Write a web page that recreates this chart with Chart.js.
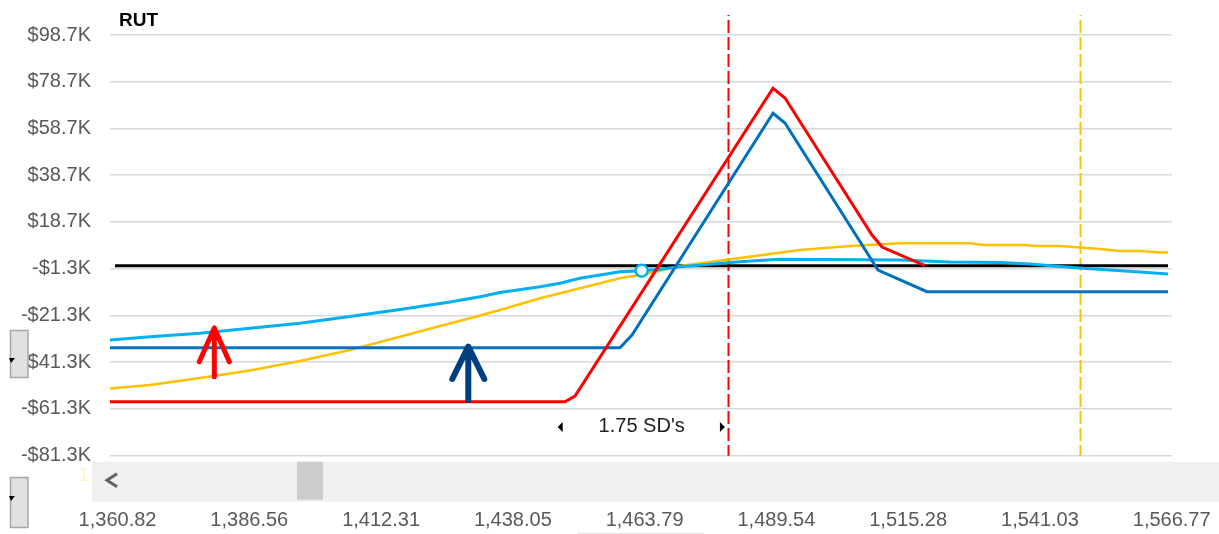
<!DOCTYPE html>
<html>
<head>
<meta charset="utf-8">
<script src="https://cdn.jsdelivr.net/npm/chart.js@4"></script>
<style>
  html, body { margin: 0; padding: 0; background: #ffffff; }
  #wrap { width: 1219px; height: 534px; position: relative; }
</style>
</head>
<body>
<div id="wrap"><canvas id="risk"></canvas></div>
<script>
// RUT risk graph: P&L (in $K) against underlying price.

// Axis ticks
const xTickValues = [1360.82, 1386.56, 1412.31, 1438.05, 1463.79, 1489.54, 1515.28, 1541.03, 1566.77];
const xTickLabels = ['1,360.82', '1,386.56', '1,412.31', '1,438.05', '1,463.79', '1,489.54', '1,515.28', '1,541.03', '1,566.77'];
const yTickValues = [-81.3, -61.3, -41.3, -21.3, -1.3, 18.7, 38.7, 58.7, 78.7, 98.7];

// Expiration P&L (red)
const expPrice = [1359.35, 1448.24, 1450.19, 1488.88, 1491.22, 1508.22, 1510.17, 1518.57];
const expPnl   = [-58.19, -58.19, -55.76, 75.90, 71.74, 13.13, 7.99, 0.00];

// Expiration P&L after adjustment (dark blue)
const adjPrice = [1359.35, 1458.98, 1461.33, 1488.88, 1491.22, 1509.39, 1518.96, 1566.05];
const adjPnl   = [-35.09, -35.09, -29.66, 65.20, 61.05, -1.85, -11.13, -11.13];

// Today's P&L after adjustment (light blue)
const todayAdjPrice = [1359.35, 1367.17, 1376.94, 1386.70, 1396.47, 1406.24, 1416.01, 1425.78, 1431.64, 1435.55,
                       1443.36, 1447.26, 1451.17, 1455.08, 1458.98, 1463.22, 1466.80, 1470.71, 1482.43, 1490.25,
                       1513.69, 1523.46, 1533.23, 1539.09, 1544.95, 1548.86, 1554.72, 1560.58, 1566.05];
const todayAdjPnl   = [-31.80, -30.39, -28.93, -26.79, -24.65, -21.74, -18.75, -15.54, -13.27, -11.47,
                       -8.99, -7.54, -5.40, -3.99, -2.57, -2.15, -1.55, -0.43, 1.70, 2.73,
                       2.43, 1.58, 1.36, 0.72, -0.35, -0.99, -1.85, -2.70, -3.56];

// Today's P&L (yellow)
const todayPrice = [1359.35, 1367.17, 1376.94, 1386.70, 1396.47, 1406.24, 1416.01, 1423.83, 1429.68, 1435.55,
                    1443.36, 1451.17, 1455.08, 1458.98, 1462.89, 1466.80, 1470.71, 1482.43, 1494.15, 1503.92,
                    1513.69, 1527.36, 1529.90, 1538.11, 1540.07, 1544.95, 1548.86, 1552.77, 1556.67, 1560.58,
                    1564.49, 1566.05];
const todayPnl   = [-52.55, -51.05, -48.06, -44.85, -40.78, -36.08, -30.39, -25.81, -22.51, -18.96,
                    -13.96, -9.68, -7.54, -5.40, -3.99, -2.15, -0.14, 3.29, 6.71, 8.42,
                    9.58, 9.58, 8.85, 8.85, 8.42, 8.42, 7.78, 7.14, 6.28, 6.28,
                    5.64, 5.64];

// Break-even reference line
const zeroPrice = [1360.33, 1566.05];
const zeroPnl   = [0, 0];

// Current underlying price on the adjusted curve
const spotPrice = [1463.22];
const spotPnl   = [-2.15];

// Vertical price markers
const markerPrices = [1480.14, 1548.86];
const markerColors = ['#ff0000', '#ffc000'];

// Standard deviation band label
const sdText = "1.75 SD's";
const sdLeft = 1447.4, sdRight = 1478.9, sdLabelY = -69.0;

// Arrow annotations: [price, tip, wing, base]
const redArrow  = [1379.73, -26.66, -41.08, -47.50];
const navyArrow = [1429.35, -34.66, -48.48, -57.47];

const FONT = "'Liberation Sans', Arial, sans-serif";

function pts(xs, ys) { return xs.map((x, i) => ({ x: x, y: ys[i] })); }

function fmtK(v) {
  const s = Math.abs(v).toFixed(1);
  return (v < 0 ? '-$' : '$') + s + 'K';
}

function drawArrow(ctx, px, tip, wing, base, half, color, width) {
  ctx.save();
  ctx.strokeStyle = color;
  ctx.lineWidth = width;
  ctx.lineCap = 'round';
  ctx.lineJoin = 'round';
  ctx.beginPath();
  ctx.moveTo(px, base);
  ctx.lineTo(px, tip);
  ctx.moveTo(px - half, wing);
  ctx.lineTo(px, tip);
  ctx.lineTo(px + half, wing);
  ctx.stroke();
  ctx.restore();
}

const overlay = {
  id: 'overlay',
  beforeDatasetsDraw(chart) {
    const { ctx, chartArea, scales } = chart;
    ctx.save();
    ctx.lineWidth = 2;
    ctx.setLineDash([13, 4]);
    ctx.lineDashOffset = 12;
    markerPrices.forEach((p, i) => {
      const px = Math.round(scales.x.getPixelForValue(p)) + 0.5;
      ctx.strokeStyle = markerColors[i];
      ctx.beginPath();
      ctx.moveTo(px, 15);
      ctx.lineTo(px, chartArea.bottom);
      ctx.stroke();
    });
    ctx.restore();
  },
  afterDraw(chart) {
    const { ctx, chartArea, scales } = chart;
    const x = scales.x, y = scales.y;
    ctx.save();

    // Title
    ctx.fillStyle = '#000000';
    ctx.font = 'bold 19px ' + FONT;
    ctx.textBaseline = 'middle';
    ctx.textAlign = 'left';
    ctx.fillText('RUT', 119, 21);

    // Arrows
    drawArrow(ctx, x.getPixelForValue(redArrow[0]), y.getPixelForValue(redArrow[1]),
              y.getPixelForValue(redArrow[2]), y.getPixelForValue(redArrow[3]), 15, '#ff0000', 5);
    drawArrow(ctx, x.getPixelForValue(navyArrow[0]), y.getPixelForValue(navyArrow[1]),
              y.getPixelForValue(navyArrow[2]), y.getPixelForValue(navyArrow[3]), 16, '#003f7f', 6);

    // SD band label with pointers
    const sy = y.getPixelForValue(sdLabelY);
    ctx.fillStyle = '#1e1e1e';
    ctx.font = '20px ' + FONT;
    ctx.textAlign = 'center';
    ctx.textBaseline = 'middle';
    ctx.fillText(sdText, x.getPixelForValue(spotPrice[0]), sy);
    const lx = x.getPixelForValue(sdLeft), rx = x.getPixelForValue(sdRight);
    ctx.fillStyle = '#000000';
    ctx.beginPath();
    ctx.moveTo(lx - 3, sy); ctx.lineTo(lx + 2, sy - 5); ctx.lineTo(lx + 2, sy + 5); ctx.closePath();
    ctx.moveTo(rx + 3, sy); ctx.lineTo(rx - 2, sy - 5); ctx.lineTo(rx - 2, sy + 5); ctx.closePath();
    ctx.fill();

    // Scroll bar
    const sbTop = chartArea.bottom + 6;
    ctx.fillStyle = '#f0f0f0';
    ctx.fillRect(92, sbTop, 1219 - 92, 40);
    ctx.fillStyle = '#cdcdcd';
    ctx.fillRect(297, sbTop, 26, 38);
    ctx.strokeStyle = '#606060';
    ctx.lineWidth = 3;
    ctx.lineCap = 'butt';
    ctx.lineJoin = 'miter';
    ctx.beginPath();
    ctx.moveTo(117, sbTop + 12); ctx.lineTo(107, sbTop + 18.5); ctx.lineTo(117, sbTop + 25);
    ctx.stroke();

    // Faint clipped label
    ctx.fillStyle = '#fff6c4';
    ctx.font = '20px ' + FONT;
    ctx.textAlign = 'left';
    ctx.fillText('1,', 78, 475);

    // Dropdown buttons at the left edge
    [[330, 48, 360], [477, 51, 498]].forEach(([top, h, ty]) => {
      ctx.fillStyle = '#e1e1e1';
      ctx.fillRect(10, top, 18, h);
      ctx.strokeStyle = '#a6a6a6';
      ctx.lineWidth = 1.5;
      ctx.strokeRect(10.5, top + 0.5, 17.5, h - 1);
      ctx.fillStyle = '#000000';
      ctx.beginPath();
      ctx.moveTo(9, ty - 2); ctx.lineTo(15, ty - 2); ctx.lineTo(11, ty + 3); ctx.closePath();
      ctx.fill();
    });

    // Thin underline beneath the centre label
    ctx.strokeStyle = '#e4e4e4';
    ctx.lineWidth = 1;
    ctx.beginPath();
    ctx.moveTo(578, 533.5); ctx.lineTo(704, 533.5);
    ctx.stroke();

    ctx.restore();
  }
};

const line = (label, xs, ys, color, width, order) => ({
  label: label,
  data: pts(xs, ys),
  borderColor: color,
  backgroundColor: color,
  borderWidth: width,
  pointRadius: 0,
  tension: 0,
  fill: false,
  order: order
});

new Chart(document.getElementById('risk'), {
  type: 'line',
  data: {
    datasets: [
      {
        label: 'Spot',
        data: pts(spotPrice, spotPnl),
        showLine: false,
        pointRadius: 6,
        pointBackgroundColor: '#ffffff',
        pointBorderColor: '#00b0f0',
        pointBorderWidth: 2.5,
        order: 0
      },
      line('Expiration', expPrice, expPnl, '#ff0000', 3, 1),
      line('Expiration (adjusted)', adjPrice, adjPnl, '#0070c0', 3, 2),
      line('Today (adjusted)', todayAdjPrice, todayAdjPnl, '#00b0f0', 3, 3),
      line('Today', todayPrice, todayPnl, '#ffc000', 2.5, 4),
      line('Break-even', zeroPrice, zeroPnl, '#000000', 3, 5)
    ]
  },
  options: {
    responsive: true,
    maintainAspectRatio: false,
    animation: false,
    devicePixelRatio: 1,
    layout: { padding: { top: 35, right: 47, left: 0, bottom: 0 } },
    plugins: {
      legend: { display: false },
      tooltip: { enabled: false }
    },
    scales: {
      x: {
        type: 'linear',
        min: 1359.35,
        max: 1566.83,
        afterBuildTicks(scale) { scale.ticks = xTickValues.map(v => ({ value: v })); },
        afterFit(scale) {
          scale.height = 78.3;
          scale.paddingLeft = 0;
          scale.paddingRight = 0;
        },
        grid: { display: false, drawTicks: false },
        border: { display: false },
        ticks: {
          autoSkip: false,
          maxRotation: 0,
          minRotation: 0,
          padding: 53,
          color: '#595959',
          font: { family: FONT, size: 20 },
          callback: (v, i) => xTickLabels[i]
        }
      },
      y: {
        min: -81.3,
        max: 98.7,
        afterBuildTicks(scale) { scale.ticks = yTickValues.map(v => ({ value: v })); },
        afterFit(scale) {
          scale.width = 110;
          scale.paddingTop = 0;
          scale.paddingBottom = 0;
        },
        grid: { color: '#d9d9d9', lineWidth: 1.5, drawTicks: false },
        border: { display: false },
        ticks: {
          padding: 19,
          color: '#595959',
          font: { family: FONT, size: 20 },
          callback: (v) => fmtK(v)
        }
      }
    }
  },
  plugins: [overlay]
});
</script>
</body>
</html>
